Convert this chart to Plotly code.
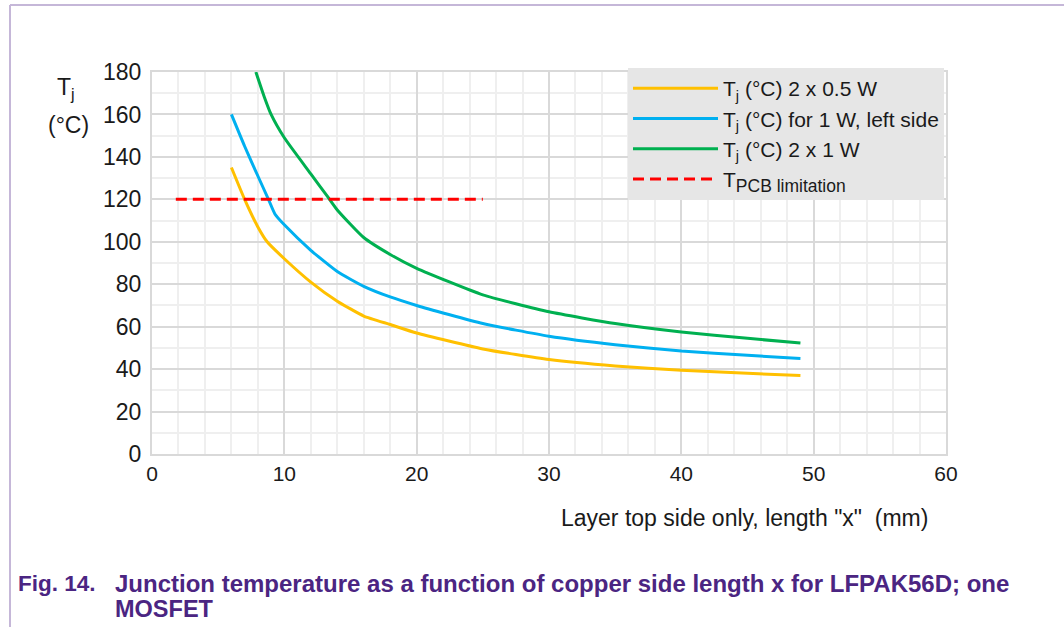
import plotly.graph_objects as go

# ---- data ----
x_half = [6, 7, 8, 8.7, 10, 12, 14, 16, 18, 20, 25, 30, 35, 40, 45, 49]
y_half = [135, 120, 107, 100, 92, 81, 72, 65, 61, 57, 49.5, 44.5, 41.5, 39.5, 38, 37]

x_left = [6, 7, 8, 8.8, 9.3, 10, 12, 14, 16, 18, 20, 25, 30, 35, 40, 45, 49]
y_left = [160, 145, 131, 120, 113, 108, 96, 86, 79, 74, 70, 61.5, 55.5, 51.5, 48.5, 46.5, 45]

x_two = [7.85, 8.5, 9, 10, 12, 13.3, 14, 16, 18, 20, 25, 30, 35, 40, 45, 49]
y_two = [180, 168, 160, 149, 132, 121, 115, 102, 94, 87.5, 75, 67, 61.5, 57.5, 54.5, 52.3]

x_pcb = [1.8, 25]
y_pcb = [120, 120]

names = ["T<sub>j</sub> (°C) 2 x 0.5 W",
         "T<sub>j</sub> (°C) for 1 W, left side",
         "T<sub>j</sub> (°C) 2 x 1 W",
         "T<sub><span style='font-size:17.5px'>PCB limitation</span></sub>"]

x_ticks = [0, 10, 20, 30, 40, 50, 60]
y_ticks = [0, 20, 40, 60, 80, 100, 120, 140, 160, 180]

W, H = 1064, 627
L, R, T, B = 152, 946, 72, 454   # plot area in pixels


def px(xp):
    return (xp - L) / (R - L)


def py(yp):
    return (B - yp) / (B - T)


fig = go.Figure()
fig.add_trace(go.Scatter(x=x_half, y=y_half, mode="lines", name=names[0],
                         line=dict(color="#ffc000", width=3, shape="spline", smoothing=0.5)))
fig.add_trace(go.Scatter(x=x_left, y=y_left, mode="lines", name=names[1],
                         line=dict(color="#00b0f0", width=3, shape="spline", smoothing=0.5)))
fig.add_trace(go.Scatter(x=x_two, y=y_two, mode="lines", name=names[2],
                         line=dict(color="#00b050", width=3, shape="spline", smoothing=0.5)))
fig.add_trace(go.Scatter(x=x_pcb, y=y_pcb, mode="lines", name=names[3],
                         line=dict(color="#ff0000", width=3, dash="11px,6px")))

font_family = "Liberation Sans, Arial, sans-serif"
txt = "#1a1a1a"

fig.update_layout(
    width=W, height=H,
    margin=dict(l=L, r=W - R, t=T, b=H - B),
    paper_bgcolor="white", plot_bgcolor="white",
    font=dict(family=font_family, color=txt),
    showlegend=True,
    legend=dict(x=px(628), y=py(68), xanchor="left", yanchor="top",
                bgcolor="#e6e6e6", borderwidth=0,
                font=dict(size=21, family=font_family, color=txt),
                itemwidth=85, tracegroupgap=0),
    xaxis=dict(range=[0, 60], tickvals=x_ticks, ticktext=[str(v) for v in x_ticks],
               showgrid=True, gridcolor="#d9d9d9", gridwidth=2,
               minor=dict(dtick=2, showgrid=True, gridcolor="#efefef", gridwidth=1.5),
               showline=True, linecolor="#d9d9d9", linewidth=2, mirror=True,
               zeroline=False, ticks="", tickfont=dict(size=21, color=txt),
               fixedrange=True),
    yaxis=dict(range=[0, 180], tickvals=y_ticks, ticktext=[str(v) for v in y_ticks],
               showgrid=True, gridcolor="#d9d9d9", gridwidth=2,
               minor=dict(dtick=10, showgrid=True, gridcolor="#efefef", gridwidth=1.5),
               showline=True, linecolor="#d9d9d9", linewidth=2, mirror=True,
               zeroline=False, ticks="", tickfont=dict(size=23, color=txt),
               ticklabelstandoff=4, fixedrange=True),
)

# axis titles
fig.add_annotation(x=px(66), y=py(88), xref="paper", yref="paper",
                   text="T<sub>j</sub>", showarrow=False,
                   font=dict(size=23, family=font_family, color=txt),
                   xanchor="center", yanchor="middle")
fig.add_annotation(x=px(68), y=py(125), xref="paper", yref="paper",
                   text="(°C)", showarrow=False,
                   font=dict(size=23, family=font_family, color=txt),
                   xanchor="center", yanchor="middle")
fig.add_annotation(x=px(744), y=py(518), xref="paper", yref="paper",
                   text='Layer top side only, length "x"  (mm)', showarrow=False,
                   font=dict(size=23, family=font_family, color=txt),
                   xanchor="center", yanchor="middle")

# caption
cap_color = "#4b2582"
fig.add_annotation(x=px(16), y=py(583), xref="paper", yref="paper",
                   text="<b>Fig. 14.</b>", showarrow=False,
                   font=dict(size=22.5, family=font_family, color=cap_color),
                   xanchor="left", yanchor="middle")
fig.add_annotation(x=px(113), y=py(583), xref="paper", yref="paper",
                   text="<b>Junction temperature as a function of copper side length x for LFPAK56D; one</b>",
                   showarrow=False, align="left",
                   font=dict(size=24, family=font_family, color=cap_color),
                   xanchor="left", yanchor="middle")
fig.add_annotation(x=px(113), y=py(609), xref="paper", yref="paper",
                   text="<b>MOSFET</b>",
                   showarrow=False, align="left",
                   font=dict(size=23.5, family=font_family, color=cap_color),
                   xanchor="left", yanchor="middle")

# frame lines
frame_color = "#c5b7d8"
fig.add_shape(type="line", xref="paper", yref="paper",
              x0=px(10), x1=px(W + 5), y0=py(5), y1=py(5),
              line=dict(color=frame_color, width=2))
fig.add_shape(type="line", xref="paper", yref="paper",
              x0=px(10), x1=px(10), y0=py(5), y1=py(H + 5),
              line=dict(color=frame_color, width=2))

fig.write_html("out.html")
